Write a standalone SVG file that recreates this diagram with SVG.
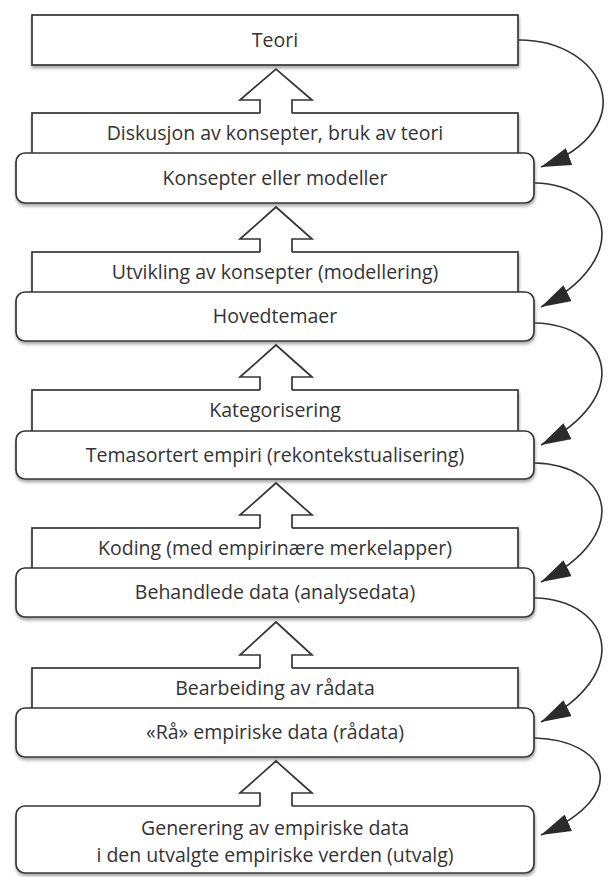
<svg xmlns="http://www.w3.org/2000/svg" width="616" height="877" viewBox="0 0 616 877">
<defs>
<filter id="sh" x="-5%" y="-20%" width="110%" height="150%">
<feDropShadow dx="0.5" dy="2.5" stdDeviation="1.6" flood-color="#000" flood-opacity="0.35"/>
</filter>
<marker id="ah" markerUnits="userSpaceOnUse" viewBox="0 0 30 18" markerWidth="30" markerHeight="18" refX="30" refY="9" orient="auto">
<path d="M0,0 L30,9 L0,18 Z" fill="#2b2b2b"/>
</marker>
</defs>
<style>
.box{fill:#fff;stroke:#353535;stroke-width:1.7;filter:url(#sh)}
.t{font-family:"Open Sans","Noto Sans","DejaVu Sans",sans-serif;font-size:19.5px;fill:#333;text-anchor:middle}
.blk{fill:#fff;stroke:none}
.blo{fill:none;stroke:#353535;stroke-width:1.7;stroke-linejoin:miter}
.cv{fill:none;stroke:#333;stroke-width:1.6;marker-end:url(#ah)}
</style>
<rect width="616" height="877" fill="#fff"/>

<g id="teori">
<rect class="box" x="32" y="15" width="486" height="50"/>
<text class="t" x="275" y="47">Teori</text>
</g>
<g id="diskusjon">
<rect class="box" x="32" y="113" width="486" height="50"/>
<text class="t" x="275" y="140">Diskusjon av konsepter, bruk av teori</text>
</g>
<g id="konsepter">
<rect class="box" x="16" y="153" width="518" height="50" rx="9"/>
<text class="t" x="275" y="185">Konsepter eller modeller</text>
</g>
<g id="utvikling">
<rect class="box" x="32" y="252" width="486" height="50"/>
<text class="t" x="275" y="279">Utvikling av konsepter (modellering)</text>
</g>
<g id="hovedtemaer">
<rect class="box" x="16" y="292" width="518" height="49" rx="9"/>
<text class="t" x="275" y="323">Hovedtemaer</text>
</g>
<g id="kategorisering">
<rect class="box" x="32" y="390" width="486" height="50"/>
<text class="t" x="275" y="417">Kategorisering</text>
</g>
<g id="temasortert">
<rect class="box" x="16" y="431" width="518" height="48" rx="9"/>
<text class="t" x="275" y="462">Temasortert empiri (rekontekstualisering)</text>
</g>
<g id="koding">
<rect class="box" x="32" y="528" width="486" height="50"/>
<text class="t" x="275" y="555">Koding (med empirinære merkelapper)</text>
</g>
<g id="behandlede">
<rect class="box" x="16" y="568" width="518" height="49" rx="9"/>
<text class="t" x="275" y="599">Behandlede data (analysedata)</text>
</g>
<g id="bearbeiding">
<rect class="box" x="32" y="668" width="486" height="50"/>
<text class="t" x="275" y="695">Bearbeiding av rådata</text>
</g>
<g id="raa">
<rect class="box" x="16" y="708" width="518" height="49" rx="9"/>
<text class="t" x="275" y="739">«Rå» empiriske data (rådata)</text>
</g>
<g id="generering">
<rect class="box" x="16" y="806" width="518" height="67" rx="9"/>
<text class="t" x="275" y="835">Generering av empiriske data</text>
<text class="t" x="275" y="862">i den utvalgte empiriske verden (utvalg)</text>
</g>

<g id="connectors">
<g id="block-arrows">
<path class="blk" d="M276,69 L312,100 L292,100 L292,115 L260,115 L260,100 L240,100 Z"/>
<path class="blo" d="M260,113 L260,100 L240,100 L276,69 L312,100 L292,100 L292,113"/>
<path class="blk" d="M276,207 L312,239 L292,239 L292,254 L260,254 L260,239 L240,239 Z"/>
<path class="blo" d="M260,252 L260,239 L240,239 L276,207 L312,239 L292,239 L292,252"/>
<path class="blk" d="M276,345 L312,377 L292,377 L292,392 L260,392 L260,377 L240,377 Z"/>
<path class="blo" d="M260,390 L260,377 L240,377 L276,345 L312,377 L292,377 L292,390"/>
<path class="blk" d="M276,483 L312,515 L292,515 L292,530 L260,530 L260,515 L240,515 Z"/>
<path class="blo" d="M260,528 L260,515 L240,515 L276,483 L312,515 L292,515 L292,528"/>
<path class="blk" d="M276,622 L312,655 L292,655 L292,670 L260,670 L260,655 L240,655 Z"/>
<path class="blo" d="M260,668 L260,655 L240,655 L276,622 L312,655 L292,655 L292,668"/>
<path class="blk" d="M276,761 L312,793 L292,793 L292,808 L260,808 L260,793 L240,793 Z"/>
<path class="blo" d="M260,806 L260,793 L240,793 L276,761 L312,793 L292,793 L292,806"/>
</g>
<g id="curves">
<path class="cv" d="M519,40 C605,40 645,128 541,167"/>
<path class="cv" d="M535,183 C610,185 635,258 541,307"/>
<path class="cv" d="M535,323 C610,325 635,396 541,445"/>
<path class="cv" d="M535,463 C610,465 635,533 541,582"/>
<path class="cv" d="M535,598 C610,600 635,673 541,722"/>
<path class="cv" d="M535,738 C605,740 635,793 541,835"/>
</g>
</g>
</svg>
